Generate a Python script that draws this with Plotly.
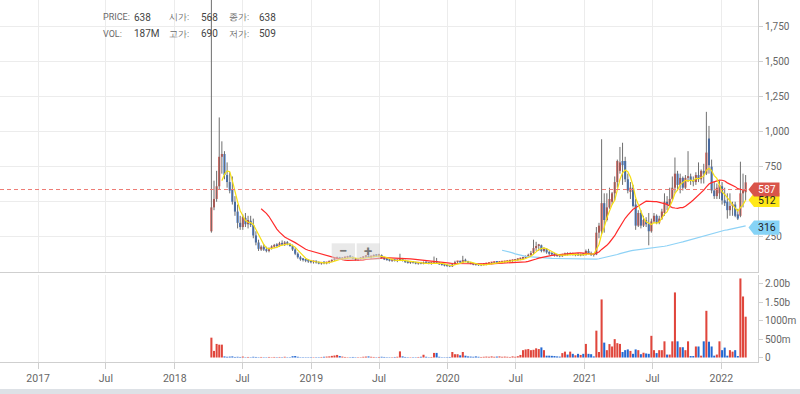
import pandas as pd
import plotly.graph_objects as go

# ---------------- data (weekly candles) ----------------
start_date = "2018-04-09"
n_weeks = 205

open_ = [290,460,520,610,820,840,690,640,590,500,
         430,350,320,385,340,365,335,260,210,160,
         180,160,150,170,180,190,185,205,195,210,
         200,185,160,130,105,90,85,80,75,70,
         72,68,60,65,62,68,75,85,95,100,
         92,98,102,110,105,95,85,92,100,108,
         112,105,110,118,115,120,100,90,85,80,
         85,78,82,95,80,70,65,70,66,60,
         62,58,68,62,60,65,75,65,55,50,
         45,42,40,55,70,72,68,85,75,65,
         58,52,50,48,52,55,58,62,65,68,
         66,68,70,72,75,78,80,85,90,95,
         100,110,120,135,170,185,190,150,165,140,
         130,125,120,115,112,120,130,122,132,120,
         125,118,125,120,150,130,128,125,280,290,
         490,370,460,500,560,640,720,790,790,660,
         570,600,480,330,420,330,370,340,290,360,
         400,350,380,420,500,470,520,600,700,620,
         670,600,670,680,650,640,690,660,720,700,
         950,750,580,540,560,610,510,500,440,470,
         480,410,400,560,568]
high = [1990,650,720,1100,930,860,780,710,680,540,
        480,400,410,420,400,400,380,290,230,190,
        200,180,175,190,200,205,215,225,220,220,
        205,195,170,140,115,100,95,90,85,80,
        82,75,70,75,72,80,90,100,110,108,
        105,110,115,120,112,100,98,105,112,118,
        120,115,125,128,130,125,108,100,95,90,
        92,88,130,100,88,80,75,78,72,70,
        72,75,75,70,68,110,100,72,62,58,
        55,50,65,80,78,80,115,95,80,72,
        65,60,58,56,60,62,66,70,72,74,
        74,76,78,82,85,88,92,98,102,108,
        118,130,150,230,215,200,195,175,170,150,
        140,135,130,125,130,138,140,140,138,130,
        135,130,135,160,165,145,130,320,350,945,
        560,560,600,570,680,800,890,920,820,700,
        640,620,520,440,440,400,390,420,380,420,
        410,400,450,560,540,600,680,815,720,700,
        680,690,860,700,680,710,780,730,770,1140,
        1040,800,640,630,650,640,600,560,560,500,
        500,450,785,700,690]
low = [280,440,500,590,700,660,600,560,480,400,
       310,300,300,320,310,320,240,190,150,150,
       150,140,140,160,170,175,180,190,185,190,
       180,150,120,95,80,75,70,65,62,60,
       60,55,52,55,55,60,70,80,88,88,
       85,90,95,100,90,82,80,88,95,100,
       100,95,105,108,105,95,85,80,75,72,
       75,70,78,75,65,60,58,60,55,52,
       55,55,58,55,52,60,60,50,45,40,
       38,35,36,50,60,62,62,70,62,55,
       48,45,44,42,46,48,52,55,58,60,
       60,62,64,66,70,72,75,80,84,88,
       95,105,115,125,150,150,140,140,130,120,
       115,110,108,105,108,115,118,118,118,112,
       115,112,115,118,125,115,110,120,240,270,
       280,360,450,480,510,600,700,620,640,560,
       520,460,300,320,310,320,320,190,280,350,
       340,340,370,400,440,460,510,560,580,560,
       580,590,640,620,610,620,640,630,630,690,
       700,560,520,520,520,480,470,380,400,400,
       390,370,390,460,509]
close = [460,520,610,820,840,690,640,580,500,430,
         350,320,390,340,370,335,260,210,165,180,
         160,150,170,180,190,185,205,195,210,200,
         185,160,130,105,90,85,80,75,70,72,
         68,60,65,62,68,75,85,95,100,92,
         98,102,110,105,95,85,92,100,108,112,
         105,110,118,115,120,100,90,85,80,85,
         78,82,95,80,70,65,70,66,60,62,
         58,68,62,60,65,75,65,55,50,45,
         42,40,55,70,72,68,85,75,65,58,
         52,50,48,52,55,58,62,65,68,66,
         68,70,72,75,78,80,85,90,95,100,
         110,120,135,170,185,190,150,165,140,130,
         125,120,115,112,125,130,122,132,120,125,
         118,125,120,150,130,120,122,280,330,490,
         370,460,520,560,640,790,780,760,660,580,
         600,470,330,420,330,370,340,290,360,400,
         350,380,430,500,480,520,600,700,620,670,
         600,670,680,650,640,690,660,720,700,850,
         760,580,540,600,620,510,490,440,470,480,
         400,380,560,580,638]
volume_m = [540,180,370,350,350,30,20,25,30,15,
            20,15,25,10,15,10,20,15,10,15,
            10,10,15,10,15,10,15,10,20,10,
            10,35,40,20,10,10,10,10,10,10,
            10,10,15,20,25,30,45,55,70,40,
            25,15,10,10,15,10,10,10,20,25,
            30,20,15,10,15,20,15,10,10,10,
            15,20,167,30,15,10,10,10,10,15,
            20,75,20,10,15,125,125,20,10,10,
            10,15,150,90,90,60,150,50,30,25,
            20,30,20,15,20,25,20,30,20,25,
            30,20,25,20,15,30,20,35,70,200,
            220,230,200,210,250,230,275,200,50,50,
            45,40,30,25,120,160,80,160,100,60,
            100,70,100,370,100,90,30,730,150,1580,
            405,200,365,300,500,390,370,150,200,220,
            180,100,220,200,90,130,110,100,590,200,
            120,200,200,440,80,80,440,1770,440,280,
            280,200,440,40,40,300,300,50,440,1270,
            430,300,50,80,440,200,270,50,200,160,
            200,40,2150,1660,1110]

ma_windows = [5, 20, 112]
ma_last_labels = [512, 587, 316]
x_ticks = ["2017-01-01", "2017-07-01", "2018-01-01", "2018-07-01", "2019-01-01",
           "2019-07-01", "2020-01-01", "2020-07-01", "2021-01-01", "2021-07-01", "2022-01-01"]
x_ticktext = ["2017", "Jul", "2018", "Jul", "2019", "Jul", "2020", "Jul", "2021", "Jul", "2022"]
price_ticks = [250, 500, 750, 1000, 1250, 1500, 1750]
price_ticktext = ["250", "", "750", "1,000", "1,250", "1,500", "1,750"]
vol_ticks = [0, 500e6, 1000e6, 1500e6, 2000e6]
vol_ticktext = ["0", "500m", "1000m", "1.50b", "2.00b"]
info_labels = ["PRICE:", "시가:", "종가:", "VOL:", "고가:", "저가:"]
info_values = ["638", "568", "638", "187M", "690", "509"]

# ---------------- derived ----------------
dates = pd.date_range(start_date, periods=n_weeks, freq="7D")
cs = pd.Series(close)
ma = {w: cs.rolling(w).mean() for w in ma_windows}

UP = "#e0463c"
DOWN = "#2468d2"
colors = [UP if c >= o else DOWN for o, c in zip(open_, close)]
body_base = [min(o, c) for o, c in zip(open_, close)]
body_h = [max(abs(c - o), 12) for o, c in zip(open_, close)]
volume = [v * 1e6 for v in volume_m]

wx, wy = [], []
for d, h, l in zip(dates, high, low):
    wx += [d, d, None]
    wy += [l, h, None]

DAY = 86400000
fig = go.Figure()
fig.add_trace(go.Scatter(x=wx, y=wy, mode="lines", line=dict(color="#6f6f6f", width=1),
                         xaxis="x", yaxis="y", hoverinfo="skip"))
fig.add_trace(go.Bar(x=dates, y=body_h, base=body_base, width=5.5 * DAY,
                     marker=dict(color=colors, line=dict(width=0)),
                     xaxis="x", yaxis="y", hoverinfo="skip"))
ma_colors = {5: "#f6df14", 20: "#ff2b2b", 112: "#8ed2f6"}
for w in [112, 20, 5]:
    fig.add_trace(go.Scatter(x=dates, y=ma[w], mode="lines",
                             line=dict(color=ma_colors[w], width=1.2),
                             xaxis="x", yaxis="y", hoverinfo="skip"))
fig.add_trace(go.Bar(x=dates, y=volume, width=5.5 * DAY,
                     marker=dict(color=colors, line=dict(width=0)),
                     xaxis="x2", yaxis="y2", hoverinfo="skip"))

W_PLOT = 758.0
H_PLOT = 362.0
def px(xp):
    return xp / W_PLOT
def py(yp):
    return (H_PLOT - yp) / H_PLOT

FONT = "Liberation Sans Narrow, Roboto, sans-serif"
xrange = ["2016-09-21", "2022-04-09"]
grid = "#ececec"
axline = "#cfcfcf"
tickfont = dict(family="Roboto", size=10, color="#666")

fig.update_layout(
    width=800, height=394,
    margin=dict(l=0, r=42, t=0, b=32),
    paper_bgcolor="white", plot_bgcolor="white",
    showlegend=False, barmode="overlay", hovermode=False,
    xaxis=dict(domain=[0, 1], anchor="y", range=xrange, tickvals=x_ticks,
               showticklabels=False, showgrid=True, gridcolor=grid,
               showline=True, linecolor=axline, ticks="", zeroline=False),
    yaxis=dict(domain=[py(272), 1], anchor="x", side="right", range=[0, 1936],
               tickvals=price_ticks, ticktext=price_ticktext, showgrid=True,
               gridcolor=grid, showline=True, linecolor=axline, ticks="outside",
               ticklen=4, tickcolor=axline, tickfont=tickfont, zeroline=False),
    xaxis2=dict(domain=[0, 1], anchor="y2", range=xrange, tickvals=x_ticks,
                ticktext=x_ticktext, showgrid=True, gridcolor=grid, showline=True,
                linecolor=axline, ticks="outside", ticklen=6, tickcolor=axline,
                tickfont=dict(family="Roboto", size=10.5, color="#666"), zeroline=False),
    yaxis2=dict(domain=[0, py(275)], anchor="x2", side="right", range=[-122e6, 2244e6],
                tickvals=vol_ticks, ticktext=vol_ticktext, showgrid=False,
                showline=True, linecolor=axline, ticks="outside", ticklen=4,
                tickcolor=axline, tickfont=tickfont, zeroline=False),
)

shapes = []
# reference dashed line at the 20-week average level
shapes.append(dict(type="line", xref="paper", yref="y", x0=0, x1=1,
                   y0=ma_last_labels[1], y1=ma_last_labels[1],
                   line=dict(color="#ee7b74", width=1, dash="4px,3px")))

# value tags on the right
tag_colors = ["#ffe817", "#d9544a", "#86d3f6"]
tag_text_colors = ["#222", "white", "#222"]
half = 50
for val, fc in zip(ma_last_labels, tag_colors):
    path = (f"M {px(748.5)},{val} L {px(754)},{val + half} L {px(779.5)},{val + half} "
            f"L {px(779.5)},{val - half} L {px(754)},{val - half} Z")
    shapes.append(dict(type="path", xref="paper", yref="y", path=path,
                       fillcolor=fc, line=dict(width=0), layer="above"))

# zoom buttons
for x0, x1 in [(331.7, 355), (356.7, 380)]:
    shapes.append(dict(type="rect", xref="paper", yref="paper", x0=px(x0), x1=px(x1),
                       y0=py(260), y1=py(243.3), fillcolor="rgba(215,215,215,0.55)",
                       line=dict(width=0), layer="above"))
# bottom grey band
shapes.append(dict(type="rect", xref="paper", yref="paper", x0=-0.01, x1=800 / W_PLOT + 0.01,
                   y0=py(394.5), y1=py(389), fillcolor="#dde1e6", line=dict(width=0)))
fig.update_layout(shapes=shapes)

ann = []
for val, tc in zip(ma_last_labels, tag_text_colors):
    ann.append(dict(xref="paper", yref="y", x=px(766.5), y=val, text=str(val),
                    showarrow=False, font=dict(family="Roboto", size=10.5, color=tc),
                    xanchor="center", yanchor="middle"))
label_x = [101, 167, 226.5, 101, 167, 226.5]
value_x = [131.5, 198.5, 256.5, 131.5, 198.5, 256.5]
rows_y = [17.3, 17.3, 17.3, 33.5, 33.5, 33.5]
for lab, v, lx, vx, yy in zip(info_labels, info_values, label_x, value_x, rows_y):
    ann.append(dict(xref="paper", yref="paper", x=px(lx), y=py(yy), text=lab,
                    showarrow=False, xanchor="left", yanchor="middle",
                    font=dict(family=FONT, size=9, color="#6a6a6a")))
    ann.append(dict(xref="paper", yref="paper", x=px(vx), y=py(yy), text=v,
                    showarrow=False, xanchor="left", yanchor="middle",
                    font=dict(family=FONT, size=10, color="#444")))
for sym, cx in [("−", 343.3), ("+", 368.3)]:
    ann.append(dict(xref="paper", yref="paper", x=px(cx), y=py(251), text=f"<b>{sym}</b>",
                    showarrow=False, xanchor="center", yanchor="middle",
                    font=dict(family="Roboto", size=15, color="#777")))
fig.update_layout(annotations=ann)

fig.write_html("out.html", config={"displayModeBar": False, "staticPlot": True},
               post_script="document.body.style.margin='0';document.body.style.overflow='hidden';")
